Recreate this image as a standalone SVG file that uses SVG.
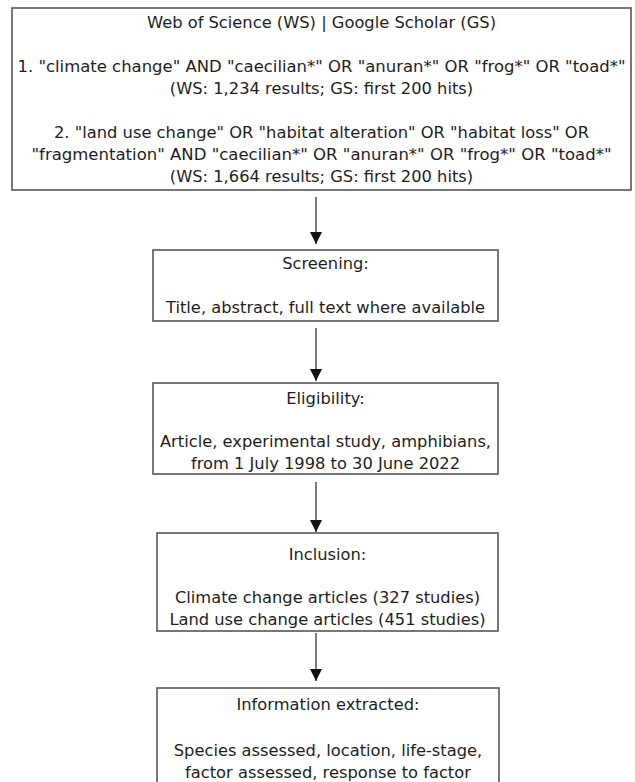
<svg xmlns="http://www.w3.org/2000/svg" width="635" height="782" viewBox="0 0 635 782">
<defs>
<style>
.box{fill:#ffffff;stroke:#606060;stroke-width:1.7}
.t{font-family:"DejaVu Sans","Liberation Sans",sans-serif;font-size:16.3px;fill:#1e1e1e;text-anchor:middle}
.conn{stroke:#333333;stroke-width:1.3;fill:none}
</style>
<marker id="ah" markerUnits="userSpaceOnUse" markerWidth="12" markerHeight="12" refX="12" refY="6" orient="auto">
<path d="M0,0 L12,6 L0,12 z" fill="#111111"/>
</marker>
</defs>
<rect width="635" height="782" fill="#ffffff"/>
<g id="search">
<rect class="box" x="12" y="8" width="619" height="182"/>
<text class="t" x="321.5" y="28">Web of Science (WS) | Google Scholar (GS)</text>
<text class="t" x="321.5" y="72" textLength="608" lengthAdjust="spacingAndGlyphs">1. "climate change" AND "caecilian*" OR "anuran*" OR "frog*" OR "toad*"</text>
<text class="t" x="321.5" y="94">(WS: 1,234 results; GS: first 200 hits)</text>
<text class="t" x="321.5" y="138" textLength="535" lengthAdjust="spacingAndGlyphs">2. "land use change" OR "habitat alteration" OR "habitat loss" OR</text>
<text class="t" x="321.5" y="160" textLength="580" lengthAdjust="spacingAndGlyphs">"fragmentation" AND "caecilian*" OR "anuran*" OR "frog*" OR "toad*"</text>
<text class="t" x="321.5" y="182">(WS: 1,664 results; GS: first 200 hits)</text>
</g>
<g id="screening">
<rect class="box" x="153" y="250" width="345" height="71"/>
<text class="t" x="325.5" y="269">Screening:</text>
<text class="t" x="325.5" y="313">Title, abstract, full text where available</text>
</g>
<g id="eligibility">
<rect class="box" x="153" y="383" width="345" height="91"/>
<text class="t" x="325.5" y="404">Eligibility:</text>
<text class="t" x="325.5" y="447">Article, experimental study, amphibians,</text>
<text class="t" x="325.5" y="469">from 1 July 1998 to 30 June 2022</text>
</g>
<g id="inclusion">
<rect class="box" x="157" y="533" width="341" height="98"/>
<text class="t" x="327.5" y="560">Inclusion:</text>
<text class="t" x="327.5" y="603">Climate change articles (327 studies)</text>
<text class="t" x="327.5" y="625">Land use change articles (451 studies)</text>
</g>
<g id="information">
<rect class="box" x="157" y="688" width="342" height="110"/>
<text class="t" x="328" y="710">Information extracted:</text>
<text class="t" x="328" y="756">Species assessed, location, life-stage,</text>
<text class="t" x="328" y="778">factor assessed, response to factor</text>
</g>
<g id="connectors">
<line class="conn" x1="316" y1="197" x2="316" y2="244" marker-end="url(#ah)"/>
<line class="conn" x1="316" y1="328" x2="316" y2="381" marker-end="url(#ah)"/>
<line class="conn" x1="316" y1="482" x2="316" y2="532" marker-end="url(#ah)"/>
<line class="conn" x1="316" y1="633" x2="316" y2="681" marker-end="url(#ah)"/>
</g>
</svg>
